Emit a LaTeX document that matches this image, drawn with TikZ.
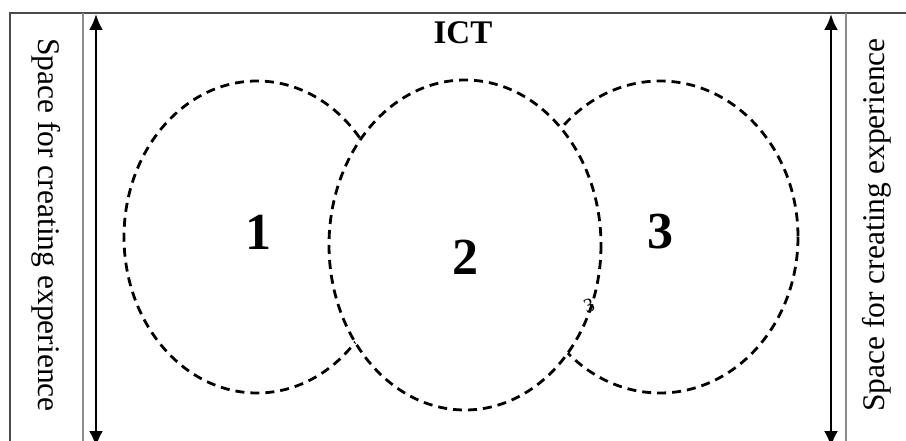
\documentclass[tikz,border=0pt]{standalone}
\usepackage{fontspec}
\setmainfont{Liberation Serif}
\usetikzlibrary{arrows.meta}
\begin{document}
\begin{tikzpicture}[x=1pt,y=-1pt,
  frameline/.style={draw=black!70,line width=1.8pt},
  innerline/.style={draw=black!45,line width=1.6pt},
  dbl/.style={line width=2.6pt,{Latex[length=16pt,width=14pt]}-{Latex[length=16pt,width=14pt]}},
  circ/.style={draw=black,line width=2.8pt,dash pattern=on 9pt off 6pt},
  side/.style={font=\fontsize{31.5}{36}\selectfont},
  num/.style={font=\fontsize{52}{58}\selectfont\bfseries}]
\useasboundingbox (0,0) rectangle (906,441);
% frame
\draw[frameline] (10,445) -- (10,13) -- (910,13);
\draw[innerline] (83,13) -- (83,445);
\draw[innerline] (846,13) -- (846,445);
% arrows
\coordinate (la) at (96,14);
\coordinate (lb) at (96,447);
\coordinate (ra) at (831,14);
\coordinate (rb) at (831,447);
\draw[dbl] (la) -- (lb);
\draw[dbl] (ra) -- (rb);
% side texts
\node[side,rotate=-90] (lt) at (46,225) {Space for creating experience};
\node[side,rotate=90] (rt) at (877,225) {Space for creating experience};
% title
\node[font=\fontsize{33}{38}\selectfont\bfseries] (ict) at (463,33) {ICT};
% ellipses
\draw[circ] (465,245) ellipse [x radius=136, y radius=165];
\begin{scope}[even odd rule]
\clip (0,0) rectangle (906,441) (465,245) ellipse [x radius=136, y radius=165];
\draw[circ] (257,237) ellipse [x radius=133, y radius=156];
\draw[circ] (660,237) ellipse [x radius=138, y radius=156];
\end{scope}
% labels
\node[num] (n1) at (258,232) {1};
\node[num] (n2) at (465,257) {2};
\node[num] (n3) at (660,232) {3};
\node[font=\fontsize{20}{22}\selectfont,rotate=20] (s3) at (589,306) {3};
\end{tikzpicture}
\end{document}
